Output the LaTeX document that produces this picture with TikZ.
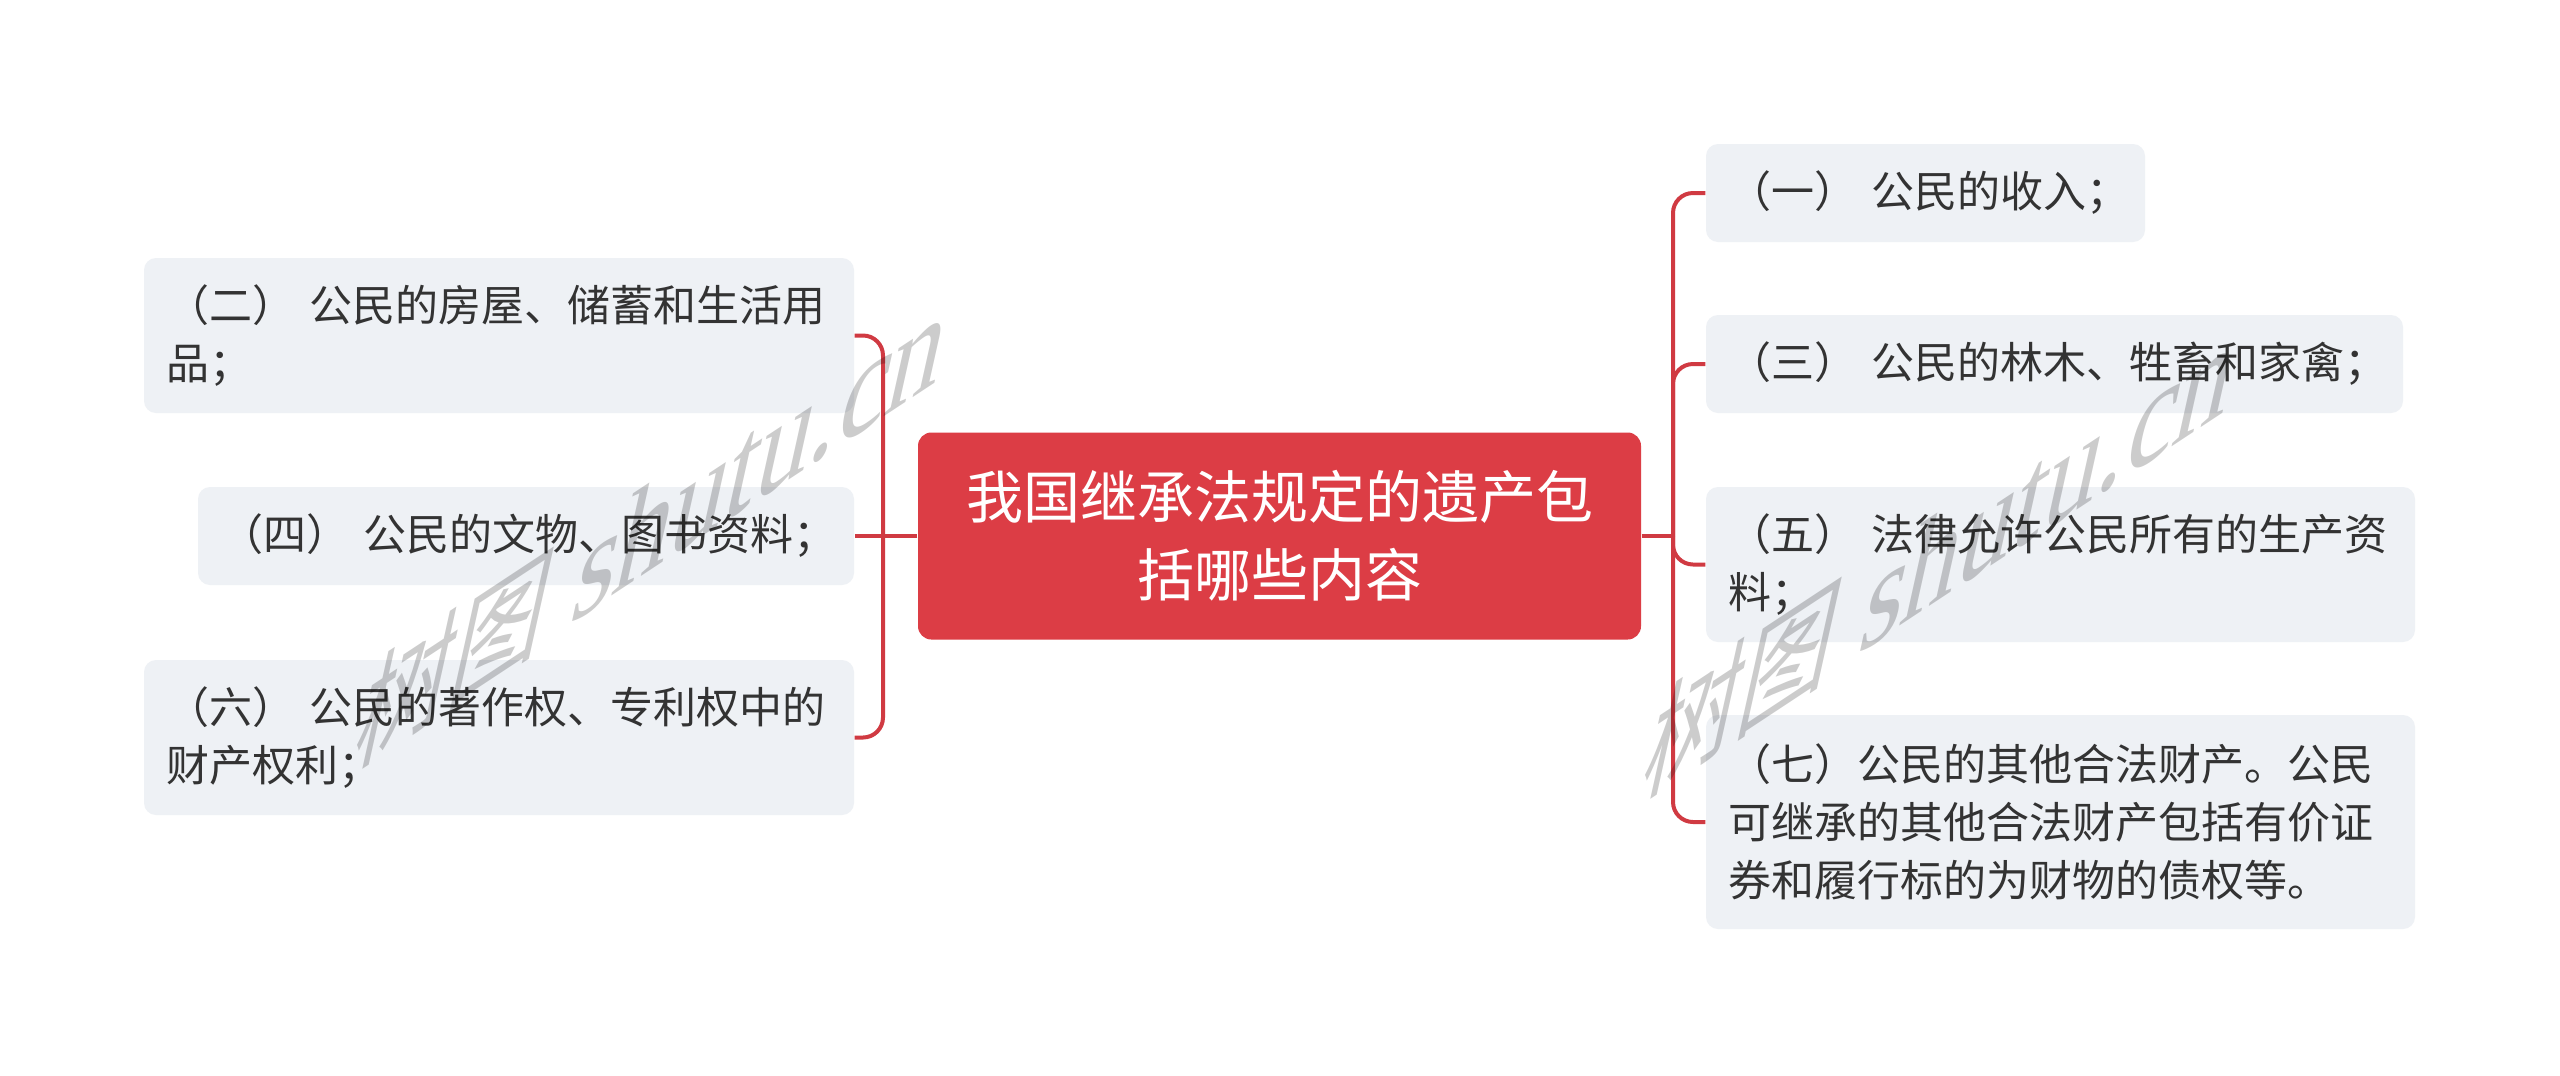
\documentclass[tikz,border=0pt]{standalone}
\usepackage{fontspec}
\setmainfont{Noto Sans CJK SC}
\newfontfamily\wmlatin{Liberation Serif}
\newfontfamily\wmcjk{Noto Sans CJK SC}
\definecolor{rootred}{RGB}{220,61,69}
\definecolor{linered}{RGB}{208,58,66}
\definecolor{leaffill}{RGB}{238,241,245}
\definecolor{leaftext}{RGB}{51,51,51}
\begin{document}
\begin{tikzpicture}[x=0.3pt,y=-0.3pt,
  leaf/.style={fill=leaffill, rounded corners=3.6pt, inner xsep=6.6pt, inner ysep=0pt,
    text=leaftext, font=\fontsize{12.9pt}{17.4pt}\selectfont, align=left},
  root/.style={fill=rootred, rounded corners=4pt, inner xsep=0pt, inner ysep=0pt,
    text=white, font=\fontsize{17.1pt}{23.4pt}\selectfont, align=center,
    text width=216.9pt, minimum height=62.1pt},
  conn/.style={draw=linered, line width=1.2pt, rounded corners=6pt},
  wmark/.style={anchor=base west, cm={1,0.66,0.3,1.35,(0,0)}, text=black, text opacity=0.2,
    inner sep=0pt}
]
\fill[white] (0,0) rectangle (2560,1075);
\useasboundingbox (0,0) rectangle (2560,1075);

\node[root] (C) at (1279.5,536) {我国继承法规定的遗产包\\括哪些内容};

\node[leaf, text width=199.8pt, minimum height=46.5pt] (L1) at (499,335.5)
  {（二）~公民的房屋、储蓄和生活用\\品；};
\node[leaf, text width=183.6pt, minimum height=29.4pt] (L2) at (526,536)
  {（四）~公民的文物、图书资料；};
\node[leaf, text width=199.8pt, minimum height=46.5pt] (L3) at (499,737.5)
  {（六）~公民的著作权、专利权中的\\财产权利；};

\node[leaf, text width=118.5pt, minimum height=29.4pt] (R1) at (1925.5,193)
  {（一）~公民的收入；};
\node[leaf, text width=195.9pt, minimum height=29.4pt] (R2) at (2054.5,364)
  {（三）~公民的林木、牲畜和家禽；};
\node[leaf, text width=199.5pt, minimum height=46.5pt] (R3) at (2060.5,564.5)
  {（五）~法律允许公民所有的生产资\\料；};
\node[leaf, text width=199.5pt, minimum height=64.2pt] (R4) at (2060.5,822)
  {（七）公民的其他合法财产。公民\\可继承的其他合法财产包括有价证\\券和履行标的为财物的债权等。};

\coordinate (lj) at (883,536);
\coordinate (rj) at (1673,536);

\draw[conn] (C.west) -- (L2.east);
\draw[conn] (lj) |- (L1.east);
\draw[conn] (lj) |- (L3.east);

\draw[conn] (C.east) -- (rj);
\draw[conn] (rj) |- (R1.west);
\draw[conn] (rj) |- (R2.west);
\draw[conn] (rj) |- (R3.west);
\draw[conn] (rj) |- (R4.west);

\node[wmark] (wm1) at (349,770)
  {\fontsize{28.5pt}{28.5pt}\wmcjk\selectfont 树图\fontsize{33pt}{33pt}\wmlatin\selectfont{} shutu.cn};
\node[wmark] (wm2) at (1637,800)
  {\fontsize{28.5pt}{28.5pt}\wmcjk\selectfont 树图\fontsize{33pt}{33pt}\wmlatin\selectfont{} shutu.cn};
\end{tikzpicture}
\end{document}
